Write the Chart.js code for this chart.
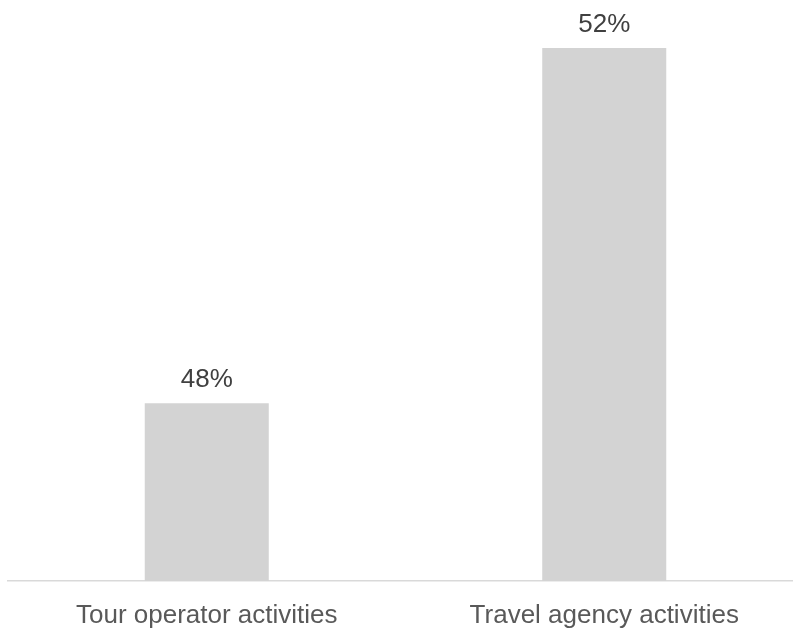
<!DOCTYPE html>
<html>
<head>
<meta charset="utf-8">
<script src="https://cdn.jsdelivr.net/npm/chart.js@4/dist/chart.umd.min.js"></script>
<style>
  html, body { margin: 0; padding: 0; background: #fff; overflow: hidden; }
  #wrap { width: 793px; height: 630px; overflow: hidden; }
  #box { width: 803px; height: 630px; }
</style>
</head>
<body>
<div id="wrap"><div id="box"><canvas id="shareChart"></canvas></div></div>
<script>
const categories = ["Tour operator activities", "Travel agency activities"];
const shares = [48, 52];
const shareLabels = ["48%", "52%"];

// labels above each bar (no datalabels plugin available)
const valueLabels = {
  id: 'valueLabels',
  afterDatasetsDraw(chart) {
    const ctx = chart.ctx;
    const meta = chart.getDatasetMeta(0);
    ctx.save();
    ctx.font = '26px "Liberation Sans", Arial, sans-serif';
    ctx.fillStyle = '#404040';
    ctx.textAlign = 'center';
    ctx.textBaseline = 'alphabetic';
    meta.data.forEach((bar, i) => {
      ctx.fillText(shareLabels[i], bar.x, bar.y - 16);
    });
    ctx.restore();
  }
};

const shareChart = new Chart(document.getElementById('shareChart'), {
    type: 'bar',
    data: {
        labels: categories,
        datasets: [{
            data: shares,
            backgroundColor: '#d3d3d3',
            barPercentage: 1,
            categoryPercentage: 0.312
        }]
    },
    options: {
        responsive: true,
        maintainAspectRatio: false,
        animation: false,
        layout: {
            padding: { top: 48, left: 8, right: 0, bottom: 0 }
        },
        plugins: {
            legend: { display: false },
            tooltip: { enabled: false }
        },
        scales: {
            x: {
                grid: { display: false },
                border: { display: true, color: '#d9d9d9', width: 1.5 },
                ticks: {
                    color: '#595959',
                    padding: 11,
                    font: { family: '"Liberation Sans", Arial, sans-serif', size: 26 }
                },
                afterFit(scale) {
                    scale.height = 49;
                }
            },
            y: {
                display: false,
                min: 46,
                max: 52
            }
        }
    },
    plugins: [valueLabels]
});
</script>
</body>
</html>
